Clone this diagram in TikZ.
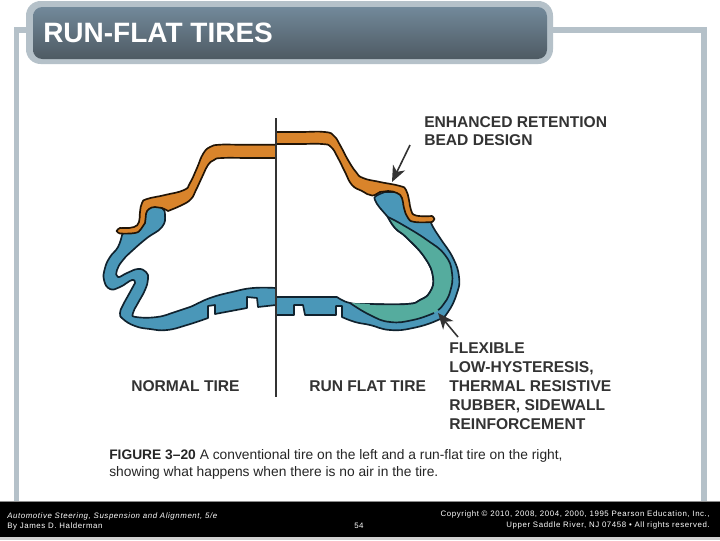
\documentclass[tikz,border=0pt]{standalone}
\usepackage{fontspec}
\setmainfont{Liberation Sans}
\usetikzlibrary{arrows.meta}
\definecolor{framegray}{HTML}{B5C1C9}
\definecolor{titletop}{HTML}{72899A}
\definecolor{titlebot}{HTML}{4E5A63}
\definecolor{tireorange}{HTML}{D9842B}
\definecolor{tireblue}{HTML}{4A97B8}
\definecolor{tireteal}{HTML}{55AC9E}
\definecolor{tireline}{HTML}{10222E}
\definecolor{labelgray}{HTML}{333333}
\tikzset{
  tireedge/.style={draw=tireline,line width=1.25pt,line join=round},
  orangeedge/.style={draw=black!85!tireorange,line width=1.25pt,line join=round},
  lbl/.style={anchor=base west,inner sep=0pt,text=labelgray,font=\fontsize{11.7}{12}\selectfont\bfseries},
  captxt/.style={anchor=base west,inner sep=0pt,text=black!85,font=\fontsize{10.35}{12}\selectfont},
  foot/.style={inner sep=0pt,text=white,font=\fontsize{5.9}{7}\selectfont\addfontfeatures{LetterSpace=7.5}},
  pointer/.style={draw=labelgray,line width=1.2pt,-{Stealth[length=12pt,width=10pt,inset=3.5pt]}},
  sm/.style={smooth,tension=0.8}
}
\begin{document}
\begin{tikzpicture}[x=0.75pt,y=-0.75pt]
\useasboundingbox (0,0) rectangle (720,540);
\fill[white] (0,0) rectangle (720,540);
% frame
\draw[framegray,line width=4.4pt] (16.5,502) -- (16.5,30) -- (60,30);
\draw[framegray,line width=4.4pt] (540,30) -- (704,30) -- (704,502);
% title
\fill[framegray,rounded corners=11pt] (26,1) rectangle (553,64);
\shade[top color=titletop,bottom color=titlebot,rounded corners=7pt] (33,7) rectangle (547,59);
\node[anchor=base west,inner sep=0pt,text=white,font=\fontsize{21}{24}\selectfont\bfseries] (title) at (43,42) {RUN-FLAT TIRES};
% footer
\fill[black!18] (0,536) rectangle (720,540);
\fill[black!45] (0,500.5) rectangle (720,502);
\fill[black] (0,501.5) rectangle (720,536.5);
\node[foot,anchor=base west] (f1) at (7,518) {\itshape Automotive Steering, Suspension and Alignment, 5/e};
\node[foot,anchor=base west] (f2) at (7,528) {By James D. Halderman};
\node[foot,anchor=base west] (f3) at (354,528) {54};
\node[foot,anchor=base east] (f4) at (710,516) {Copyright © 2010, 2008, 2004, 2000, 1995 Pearson Education, Inc.,};
\node[foot,anchor=base east] (f5) at (710,527) {Upper Saddle River, NJ 07458 • All rights reserved.};
% left blue
\path[tireedge,fill=tireblue]
 plot[sm] coordinates {(125,231) (136,230) (143,222) (145,212) (150,208) (155,206) (162,208) (165,215) (162,227) (147,238) (133,250) (123,260) (117,270) (118,277) (127,273) (138,269) (146,272) (148,279) (145,290) (138,303) (133,313) (136,317) (157,317) (175,312) (190,307) (210,298) (232,292) (253,288) (276,288)}
 -- (276,305) -- (258,307) -- (257,298) -- (247,297) -- (247,308) -- (215,314) -- (215,305) -- (208,306) -- (208,318)
 -- plot[sm] coordinates {(208,318) (187,325) (167,330) (150,329) (135,326) (123,319) (120,313) (123,305) (129,294) (135,283)}
 -- plot[sm] coordinates {(135,283) (132,280) (120,287) (110,289) (104,280) (105,268) (110,257) (118,247) (122,235)} -- cycle;
% left orange
\path[orangeedge,fill=tireorange]
 plot[sm] coordinates {(276,144.7) (240,144.7) (220,144.7) (210,147) (203,154) (197,168) (190,183) (184,190) (165,195) (147,199) (142,203) (140,212) (139,222) (134,227) (125,228) (120,228)}
 -- plot[sm] coordinates {(120,228) (116.5,231) (120,233.5)}
 -- plot[sm] coordinates {(120,233.5) (135,233) (141,229) (145,223) (146,214) (149,209) (155,207) (162,208) (168,211)}
 -- plot[sm] coordinates {(168,211) (182,205) (191,199) (196,190) (203,175) (208,165) (214,160) (222,158) (250,158) (276,158)} -- cycle;
% right blue
\path[tireedge,fill=tireblue]
 plot[sm] coordinates {(385,192) (376,196) (375,200) (380,208) (387,216) (395,228) (407,238) (425,258) (433,277) (430,292) (420,300) (407,304) (370,304) (350,303) (337,297)}
 -- (276,297) -- (276,315) -- (294,315) -- (294,305) -- (303,305) -- (305,315) -- (336,315) -- (336,306) -- (342,306) -- (342,317)
 -- plot[sm] coordinates {(342,317) (355,322) (370,325) (390,330) (413,328) (438,320) (448,312) (457,293) (459,277) (453,258) (440,238) (433,227) (430,220)}
 -- (412,219) -- (405,205) -- (400,192) -- cycle;
% teal
\path[fill=tireteal]
 plot[sm] coordinates {(388,217) (403,225) (427,240) (445,255) (452,273) (450,292) (443,305) (435,312) (413,320) (390,322) (370,315) (350,303)}
 -- (370,304) -- plot[sm] coordinates {(370,304) (407,304) (420,300) (430,292) (433,277) (425,258) (407,238) (395,228) (388,217)} -- cycle;
\draw[tireedge] plot[sm] coordinates {(370,304) (407,304) (420,300) (430,292) (433,277) (425,258) (407,238) (395,228) (388,217)};
\draw[tireedge] plot[sm] coordinates {(388,217) (403,225) (427,240) (445,255) (452,273) (450,292) (443,305) (438,310)};
\draw[tireedge] plot[sm] coordinates {(434,313) (413,320) (390,322) (370,315) (350,303)};
% right orange
\path[orangeedge,fill=tireorange]
 plot[sm] coordinates {(276,132) (300,132) (325,132) (334,136) (340,145) (348,160) (356,172) (363,178) (380,182) (400,186) (406,190) (409,200) (411,210) (416,215.5) (432,216)}
 -- plot[sm] coordinates {(432,216) (434.5,219) (432,222)}
 -- plot[sm] coordinates {(432,222) (415,222) (408,218) (404,208) (402,198) (397,193) (388,191) (380,192) (372,195.5) (362,191) (352,185) (345,172) (338,158) (331,147) (322,144) (300,144) (276,144)} -- cycle;
% centre line
\coordinate (lineTop) at (276,118);
\coordinate (lineBot) at (276,397);
\draw[labelgray,line width=1.1pt] (lineTop) -- (lineBot);
% labels
\node[lbl] (l1) at (424,127.5) {ENHANCED RETENTION};
\node[lbl] (l2) at (424,145.5) {BEAD DESIGN};
\node[lbl] (n1) at (131,391.5) {NORMAL TIRE};
\node[lbl] (n2) at (309,391.5) {RUN FLAT TIRE};
\node[lbl] (r1) at (449,353.5) {FLEXIBLE};
\node[lbl] (r2) at (449,372.5) {LOW-HYSTERESIS,};
\node[lbl] (r3) at (449,391.5) {THERMAL RESISTIVE};
\node[lbl] (r4) at (449,410.5) {RUBBER, SIDEWALL};
\node[lbl] (r5) at (449,429.5) {REINFORCEMENT};
\node[captxt] (c1) at (109,459) {\textbf{FIGURE 3–20} A conventional tire on the left and a run-flat tire on the right,};
\node[captxt] (c2) at (109,476) {showing what happens when there is no air in the tire.};
% arrows
\coordinate (a1s) at (410,145);
\coordinate (a1e) at (392,182);
\coordinate (a2s) at (458,337);
\coordinate (a2e) at (438,313);
\draw[pointer] (a1s) -- (a1e);
\draw[pointer] (a2s) -- (a2e);
\end{tikzpicture}
\end{document}
